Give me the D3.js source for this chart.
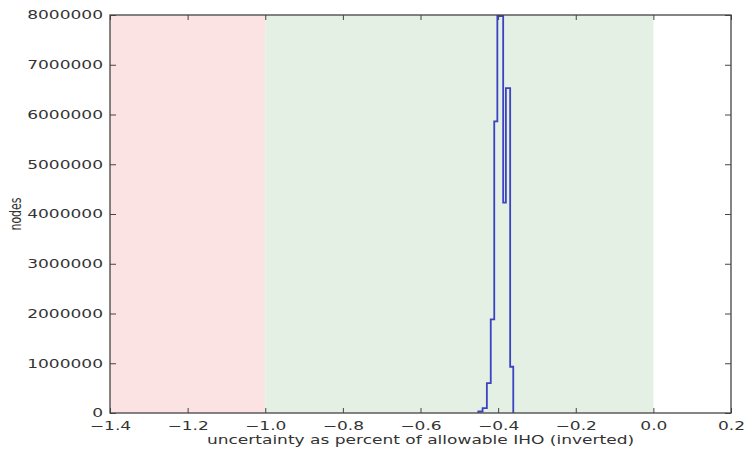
<!DOCTYPE html>
<html lang="en">
<head>
	<meta charset="UTF-8">
	<title>histogram</title>
	<style type="text/css">
		body { margin: 0; background: #fff; }
		text { font-family: "DejaVu Sans", sans-serif; fill: #333; }
	</style>
</head>
<body>
	<script type="text/javascript" src="https://cdn.jsdelivr.net/npm/d3@7/dist/d3.min.js"></script>
	<script type="text/javascript">
		// histogram bins
		var binEdges = [-0.451, -0.440, -0.429, -0.419, -0.410, -0.402, -0.387, -0.380, -0.369, -0.361];
		var binCounts = [30000, 100000, 600000, 1880000, 5860000, 7980000, 4230000, 6530000, 930000];

		var redSpan = [-1.4, -1.0];
		var greenSpan = [-1.0, 0.0];

		var xTicks = [-1.4, -1.2, -1.0, -0.8, -0.6, -0.4, -0.2, 0.0, 0.2];
		var yTicks = [0, 1000000, 2000000, 3000000, 4000000, 5000000, 6000000, 7000000, 8000000];

		var w = 745;
		var h = 453;
		var margin = {top: 15, right: 14, bottom: 40, left: 110};
		var sx = 1.42; // the picture is stretched sideways, so is its text

		var svg = d3.select('body')
					.append('svg')
					.attr('width', w)
					.attr('height', h);

		var x = d3.scaleLinear()
				.domain([-1.4, 0.2])
				.range([margin.left, w - margin.right]);
		var y = d3.scaleLinear()
				.domain([0, 8000000])
				.range([h - margin.bottom, margin.top]);

		// shaded spans
		svg.append('rect')
			.attr('x', x(redSpan[0]))
			.attr('y', margin.top)
			.attr('width', x(redSpan[1]) - x(redSpan[0]))
			.attr('height', y(0) - margin.top)
			.attr('fill', '#fbe2e3');
		svg.append('rect')
			.attr('x', x(greenSpan[0]))
			.attr('y', margin.top)
			.attr('width', x(greenSpan[1]) - x(greenSpan[0]))
			.attr('height', y(0) - margin.top)
			.attr('fill', '#e3f0e3');

		// step outline
		var pts = [[binEdges[0], 0]];
		binCounts.forEach(function (c, i) {
			pts.push([binEdges[i], c]);
			pts.push([binEdges[i + 1], c]);
		});
		pts.push([binEdges[binEdges.length - 1], 0]);

		var line = d3.line()
					.x(function (d) { return x(d[0]); })
					.y(function (d) { return y(d[1]); });

		svg.append('path')
			.datum(pts)
			.attr('d', line)
			.attr('fill', 'none')
			.attr('stroke', '#3c42c4')
			.attr('stroke-width', 1.8);

		// axes, ticks pointing inwards
		var fs = '12px';
		var gBottom = svg.append('g')
					.attr('transform', 'translate(0,' + y(0) + ')')
					.call(d3.axisBottom(x).tickValues(xTicks).tickFormat(d3.format('.1f')).tickSizeInner(-5).tickSizeOuter(0).tickPadding(8));
		var gTop = svg.append('g')
					.attr('transform', 'translate(0,' + margin.top + ')')
					.call(d3.axisTop(x).tickValues(xTicks).tickFormat('').tickSizeInner(-5).tickSizeOuter(0));
		var gLeft = svg.append('g')
					.attr('transform', 'translate(' + margin.left + ',0)')
					.call(d3.axisLeft(y).tickValues(yTicks).tickFormat(d3.format('d')).tickSizeInner(-6).tickSizeOuter(0));
		var gRight = svg.append('g')
					.attr('transform', 'translate(' + (w - margin.right) + ',0)')
					.call(d3.axisRight(y).tickValues(yTicks).tickFormat('').tickSizeInner(-6).tickSizeOuter(0));

		[gBottom, gTop, gLeft, gRight].forEach(function (g) {
			g.attr('font-family', null).attr('font-size', null);
			g.select('.domain').remove();
			g.selectAll('line').attr('stroke', '#444');
		});

		gBottom.selectAll('text')
			.attr('font-size', fs)
			.attr('fill', '#2b2b2b')
			.attr('transform', 'scale(' + sx + ',1)');
		gLeft.selectAll('text')
			.attr('font-size', fs)
			.attr('fill', '#2b2b2b')
			.attr('x', -7 / sx)
			.attr('transform', 'scale(' + sx + ',1)');

		// frame
		svg.append('rect')
			.attr('x', margin.left)
			.attr('y', margin.top)
			.attr('width', x(0.2) - margin.left)
			.attr('height', y(0) - margin.top)
			.attr('fill', 'none')
			.attr('stroke', '#444')
			.attr('stroke-width', 1.3);

		// axis titles
		svg.append('g')
			.attr('transform', 'translate(' + ((margin.left + x(0.2)) / 2) + ',444)')
			.append('text')
			.attr('transform', 'scale(' + sx + ',1)')
			.attr('text-anchor', 'middle')
			.attr('font-size', fs)
			.attr('fill', '#2b2b2b')
			.text('uncertainty as percent of allowable IHO (inverted)');

		svg.append('g')
			.attr('transform', 'translate(21,' + y(4000000) + ')')
			.append('text')
			.attr('transform', 'scale(' + sx + ',1) rotate(-90)')
			.attr('text-anchor', 'middle')
			.attr('font-size', '11px')
			.attr('fill', '#2b2b2b')
			.text('nodes');
	</script>
</body>
</html>
